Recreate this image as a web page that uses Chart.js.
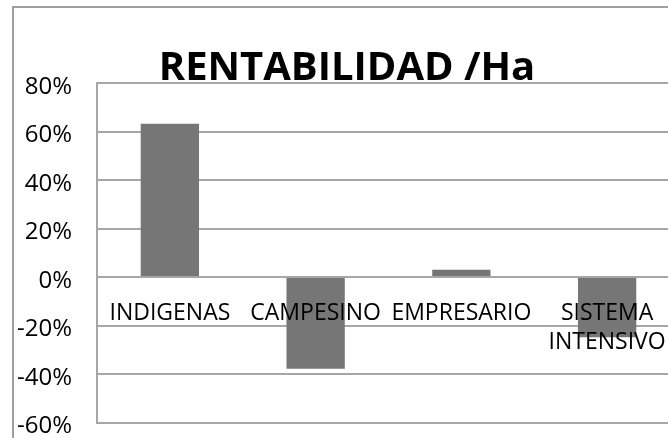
<!DOCTYPE html>
<html>
<head>
<meta charset="utf-8">
<script src="https://cdn.jsdelivr.net/npm/chart.js@4.4.1/dist/chart.umd.min.js"></script>
<style>
  html, body { margin: 0; padding: 0; background: #fff; overflow: hidden; width: 668px; height: 438px; }
  #frame { position: absolute; left: 12px; top: 6px; width: 700px; height: 480px;
           border-left: 2px solid #a0a0a0; border-top: 2px solid #a0a0a0; }
  #chart { position: absolute; left: 0; top: 0; }
</style>
</head>
<body>
<div id="frame"><canvas id="chart" width="666" height="454"></canvas></div>
<script>
// categorias y valores (rentabilidad por hectarea)
const categorias = ['INDIGENAS', 'CAMPESINO', 'EMPRESARIO', ['SISTEMA', 'INTENSIVO']];
const rentabilidad = [0.632, -0.378, 0.03, -0.248];
const ticksY = [-0.6, -0.4, -0.2, 0, 0.2, 0.4, 0.6, 0.8];

const FONT = "'Open Sans', sans-serif";
const gris = '#a6a6a6';

const ctx = document.getElementById('chart').getContext('2d');
new Chart(ctx, {
  type: 'bar',
  data: {
    labels: categorias,
    datasets: [{
      label: 'Rentabilidad',
      data: rentabilidad,
      backgroundColor: '#767676',
      borderWidth: 0,
      barPercentage: 0.4,
      categoryPercentage: 1
    }]
  },
  options: {
    responsive: false,
    animation: false,
    layout: { padding: 0 },
    plugins: {
      legend: { display: false },
      tooltip: { enabled: false },
      title: {
        display: true,
        text: 'RENTABILIDAD /Ha',
        color: '#000',
        font: { family: FONT, size: 40, weight: 'bold', lineHeight: 0.7 },
        padding: { top: 47, bottom: 0 }
      }
    },
    scales: {
      x: {
        position: { y: 0 },
        afterFit: axis => { axis.paddingLeft = 0; axis.paddingRight = 0; },
        grid: { display: false, drawTicks: false },
        border: { color: gris, width: 2 },
        ticks: {
          z: 1,
          color: '#000',
          font: { family: FONT, size: 23, lineHeight: 1.3 },
          padding: 21, maxRotation: 0, autoSkip: false
        }
      },
      y: {
        min: ticksY[0],
        max: ticksY[ticksY.length - 1],
        afterBuildTicks: axis => { axis.ticks = ticksY.map(v => ({ value: v })); },
        afterFit: axis => { axis.width = 83; },
        grid: { color: gris, lineWidth: 2, drawTicks: false },
        border: { color: gris, width: 2 },
        ticks: {
          color: '#000',
          font: { family: FONT, size: 24 },
          padding: 25,
          labelOffset: 4,
          callback: v => Math.round(v * 100) + '%'
        }
      }
    }
  }
});
</script>
</body>
</html>
